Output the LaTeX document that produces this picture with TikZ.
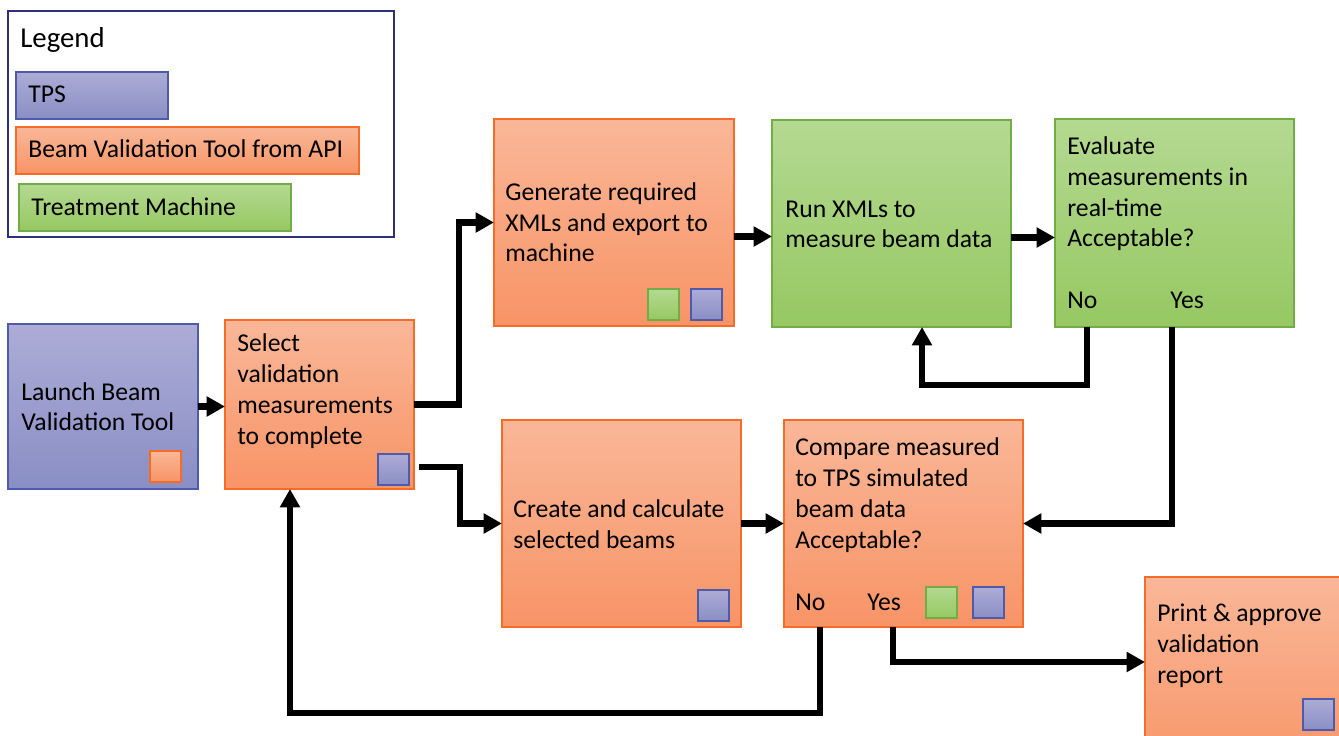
\documentclass[tikz,border=0pt]{standalone}
\usepackage{fontspec}
\setmainfont{Carlito}
\usetikzlibrary{arrows.meta,calc}
\definecolor{blueTop}{RGB}{172,172,214}
\definecolor{blueBot}{RGB}{137,142,196}
\definecolor{blueLine}{RGB}{80,90,170}
\definecolor{orangeTop}{RGB}{249,183,152}
\definecolor{orangeBot}{RGB}{248,148,102}
\definecolor{orangeLine}{RGB}{245,108,40}
\definecolor{greenTop}{RGB}{180,217,145}
\definecolor{greenBot}{RGB}{150,200,98}
\definecolor{greenLine}{RGB}{112,173,71}
\definecolor{legendLine}{RGB}{47,47,120}
\begin{document}
\begin{tikzpicture}[x=0.02cm,y=-0.02cm,
  box/.style={line width=0.8pt, inner sep=0pt, outer sep=0pt, anchor=north west},
  tps/.style={box, draw=blueLine, top color=blueTop, bottom color=blueBot},
  bvt/.style={box, draw=orangeLine, top color=orangeTop, bottom color=orangeBot},
  tm/.style={box, draw=greenLine, top color=greenTop, bottom color=greenBot},
  sz/.style n args={2}{minimum width=#1*0.02cm, minimum height=#2*0.02cm},
  sq/.style={sz={31}{31}},
  txt/.style={font=\fontsize{14.6}{17.6}\selectfont, align=left, inner sep=0pt, anchor=base west},
  arr/.style={line width=3.9pt, line join=miter, -{Triangle[length=10.5pt,width=11pt]}}
]
\useasboundingbox (0,0) rectangle (1339,736);
\clip (0,0) rectangle (1339,736);

% legend
\node[box, draw=legendLine, line width=1pt, fill=white, sz={386}{226}] (legend) at (8,11) {};
\node[txt, font=\fontsize{16.4}{19}\selectfont] (legendtitle) at (20,48) {Legend};
\node[tps, sz={152}{47}] (lgtps) at (16,72) {};
\node[txt] (lgtpst) at (28,103) {TPS};
\node[bvt, sz={343}{47}] (lgbvt) at (16,127) {};
\node[txt] (lgbvtt) at (28,158) {Beam Validation Tool from API};
\node[tm, sz={272}{47}] (lgtm) at (19,184) {};
\node[txt] (lgtmt) at (31,216) {Treatment Machine};

% boxes
\node[tps, sz={190}{165}] (launch) at (8,324) {};
\node[bvt, sz={189}{169}] (select) at (225,320) {};
\node[bvt, sz={240}{207}] (gen) at (494,119) {};
\node[tm, sz={239}{207}] (run) at (772,120) {};
\node[tm, sz={239}{208}] (eval) at (1055,119) {};
\node[bvt, sz={239}{207}] (create) at (502,420) {};
\node[bvt, sz={239}{207}] (cmp) at (784,420) {};
\node[bvt, sz={239}{207}] (print) at (1145,577) {};

% small squares
\node[bvt, sq] (sqlaunch) at (150,451) {};
\node[tps, sq] (sqselect) at (378,454) {};
\node[tm, sq] (sqgen1) at (648,289) {};
\node[tps, sq] (sqgen2) at (691,289) {};
\node[tps, sq] (sqcreate) at (698,590) {};
\node[tm, sq] (sqcmp1) at (926,587) {};
\node[tps, sq] (sqcmp2) at (973,587) {};
\node[tps, sq] (sqprint) at (1303,699) {};

% texts (anchor = baseline of the last line)
\node[txt] (tlaunch) at (21,431) {Launch Beam\\Validation Tool};
\node[txt] (tselect) at (237,444) {Select\\validation\\measurements\\to complete};
\node[txt] (tgen) at (505,262) {Generate required\\XMLs and export to\\machine};
\node[txt] (trun) at (785,248) {Run XMLs to\\measure beam data};
\node[txt] (teval) at (1067,247) {Evaluate\\measurements in\\real-time\\Acceptable?};
\node[txt] (tevalno) at (1067,309) {No};
\node[txt] (tevalyes) at (1170,309) {Yes};
\node[txt] (tcreate) at (513,548) {Create and calculate\\selected beams};
\node[txt] (tcmp) at (795,548) {Compare measured\\to TPS simulated\\beam data\\Acceptable?};
\node[txt] (tcmpno) at (795,610) {No};
\node[txt] (tcmpyes) at (867,610) {Yes};
\node[txt] (tprint) at (1157,683) {Print \& approve\\validation\\report};

% connector start points
\coordinate (genout) at ($(gen.east)+(0,14)$);
\coordinate (runout) at ($(run.east)+(0,14)$);

% connectors
\draw[arr] (launch.east) -- (launch.east -| select.west);
\draw[arr] (select.east) -- ++(45,0) |- (gen.west);
\draw[arr] ($(select.south east)+(5,-22)$) -- ++(41,0) |- (create.west);
\draw[arr] (genout) -- (genout -| run.west);
\draw[arr] (runout) -- (runout -| eval.west);
\draw[arr] ($(eval.south west)+(32,0)$) -- ++(0,58) -| ($(run.south west)+(150,0)$);
\draw[arr] ($(eval.south west)+(117,0)$) |- (cmp.east);
\draw[arr] (create.east) -- (cmp.west);
\draw[arr] ($(cmp.south west)+(36,0)$) -- ++(0,86) -| ($(select.south west)+(65,0)$);
\draw[arr] ($(cmp.south west)+(109,0)$) |- ($(print.north west)+(0,85)$);
\end{tikzpicture}
\end{document}
